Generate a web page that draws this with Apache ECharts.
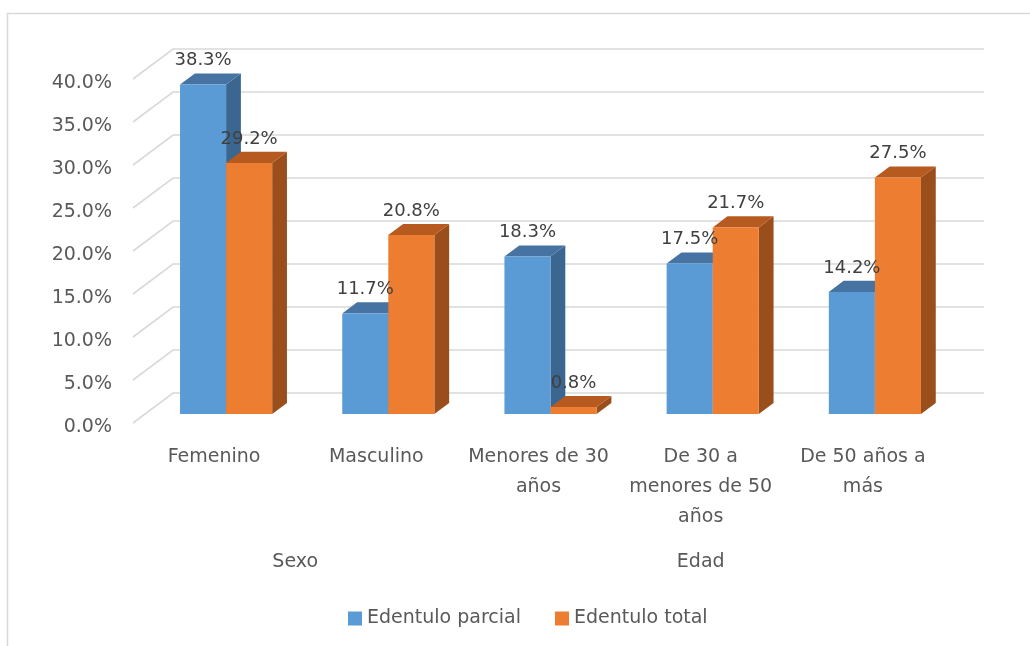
<!DOCTYPE html>
<html>
<head>
<meta charset="utf-8">
<script src="https://cdn.jsdelivr.net/npm/echarts@6/dist/echarts.min.js"></script>
<style>
  html, body { margin: 0; padding: 0; background: #ffffff; }
  #chart { width: 1030px; height: 646px; }
</style>
</head>
<body>
<div id="chart"></div>
<script>
// Categories and values
const categories = ['Femenino', 'Masculino', 'Menores de 30\naños', 'De 30 a\nmenores de 50\naños', 'De 50 años a\nmás'];
const seriesNames = ['Edentulo parcial', 'Edentulo total'];
const parcial = [38.3, 11.7, 18.3, 17.5, 14.2];
const total = [29.2, 20.8, 0.8, 21.7, 27.5];
const yTicks = [0, 5, 10, 15, 20, 25, 30, 35, 40];
const groupNames = ['Sexo', 'Edad'];
const groupSpans = [[0, 1], [2, 4]];

const FONT = '"DejaVu Sans", "Noto Sans", sans-serif';
const AXIS_COLOR = '#595959';
const LABEL_COLOR = '#404040';

// Oblique depth: offset of the back wall relative to the floor front
const DX = 40, DY = -30;
// Bar occupies this depth slice (0 = front, 1 = back wall)
const D0 = 0.3, D1 = 0.67;
const BAR_FRAC = 0.284;

const palettes = [
  { front: '#5B9BD5', top: '#4673A1', side: '#3B6690' },
  { front: '#ED7D31', top: '#B65A1F', side: '#9A4E1C' }
];

// Side-wall / back-wall grid line plus its value label on the floor front edge
function wallItem(params, api) {
  const cs = params.coordSys;
  const v = api.value(1);
  const y = api.coord([0, v])[1];
  return {
    type: 'group',
    children: [
      {
        type: 'polyline',
        shape: { points: [[cs.x, y], [cs.x + DX, y + DY], [cs.x + cs.width + DX, y + DY]] },
        style: { stroke: '#D9D9D9', lineWidth: 1.6, fill: null }
      },
      {
        type: 'text',
        style: {
          text: v.toFixed(1) + '%', x: cs.x - 21, y: y + 4,
          align: 'right', verticalAlign: 'middle',
          fill: AXIS_COLOR, font: '19px ' + FONT
        }
      }
    ]
  };
}

function barRenderer(seriesIdx) {
  return function (params, api) {
    const cat = api.value(0);
    const val = api.value(1);
    const top = api.coord([cat, val]);
    const base = api.coord([cat, 0]);
    const bw = api.size([1, 0])[0] * BAR_FRAC;
    const x0 = top[0] - bw + seriesIdx * bw + DX * D0;
    const x1 = x0 + bw;
    const yT = top[1] + DY * D0;
    const yB = base[1] + DY * D0;
    const ddx = DX * (D1 - D0), ddy = DY * (D1 - D0);
    const pal = palettes[seriesIdx];
    return {
      type: 'group',
      children: [
        { type: 'polygon', shape: { points: [[x1, yB], [x1 + ddx, yB + ddy], [x1 + ddx, yT + ddy], [x1, yT]] }, style: { fill: pal.side } },
        { type: 'polygon', shape: { points: [[x0, yT], [x0 + ddx, yT + ddy], [x1 + ddx, yT + ddy], [x1, yT]] }, style: { fill: pal.top } },
        { type: 'rect', shape: { x: x0, y: yT, width: bw, height: yB - yT }, style: { fill: pal.front } },
        {
          type: 'text', z2: 100,
          style: {
            text: val.toFixed(1) + '%', x: (x0 + x1) / 2, y: yT - 24,
            align: 'center', verticalAlign: 'middle',
            fill: LABEL_COLOR, font: '18px ' + FONT
          }
        }
      ]
    };
  };
}

const chart = echarts.init(document.getElementById('chart'), null, { renderer: 'canvas' });

const option = {
  backgroundColor: '#ffffff',
  animation: false,
  grid: { left: 133, right: 86, top: 79, bottom: 223, containLabel: false },
  legend: {
    data: seriesNames,
    bottom: 13,
    left: 343,
    icon: 'rect',
    itemWidth: 14,
    itemHeight: 14,
    itemGap: 34,
    textStyle: { color: AXIS_COLOR, fontSize: 19, fontFamily: FONT }
  },
  xAxis: {
    type: 'category',
    data: categories,
    axisLine: { show: false },
    axisTick: { show: false },
    axisLabel: {
      interval: 0, margin: 19, color: AXIS_COLOR, fontSize: 19,
      fontFamily: FONT, lineHeight: 30
    }
  },
  yAxis: {
    type: 'value',
    min: 0, max: 40, interval: 5,
    axisLine: { show: false },
    axisTick: { show: false },
    splitLine: { show: false },
    axisLabel: { show: false }
  },
  series: [
    {
      type: 'custom', name: 'wall', silent: true, z: 1,
      renderItem: wallItem,
      data: yTicks.map(t => [0, t])
    },
    {
      type: 'custom', name: seriesNames[0], z: 2,
      itemStyle: { color: palettes[0].front },
      renderItem: barRenderer(0),
      data: parcial.map((v, i) => [i, v])
    },
    {
      type: 'custom', name: seriesNames[1], z: 2,
      itemStyle: { color: palettes[1].front },
      renderItem: barRenderer(1),
      data: total.map((v, i) => [i, v])
    }
  ]
};
chart.setOption(option);

// Outer frame and the group labels under the categories
const groupGraphics = groupNames.map((name, i) => {
  const a = chart.convertToPixel({ xAxisIndex: 0 }, groupSpans[i][0]);
  const b = chart.convertToPixel({ xAxisIndex: 0 }, groupSpans[i][1]);
  return {
    type: 'text',
    style: {
      text: name, x: (a + b) / 2, y: 562,
      align: 'center', verticalAlign: 'middle',
      fill: AXIS_COLOR, font: '19px ' + FONT
    }
  };
});
chart.setOption({
  graphic: [
    {
      type: 'rect', silent: true,
      shape: { x: 7.5, y: 13.5, width: 1200, height: 1000 },
      style: { fill: null, stroke: '#D9D9D9', lineWidth: 1.5 }
    }
  ].concat(groupGraphics)
});
</script>
</body>
</html>
